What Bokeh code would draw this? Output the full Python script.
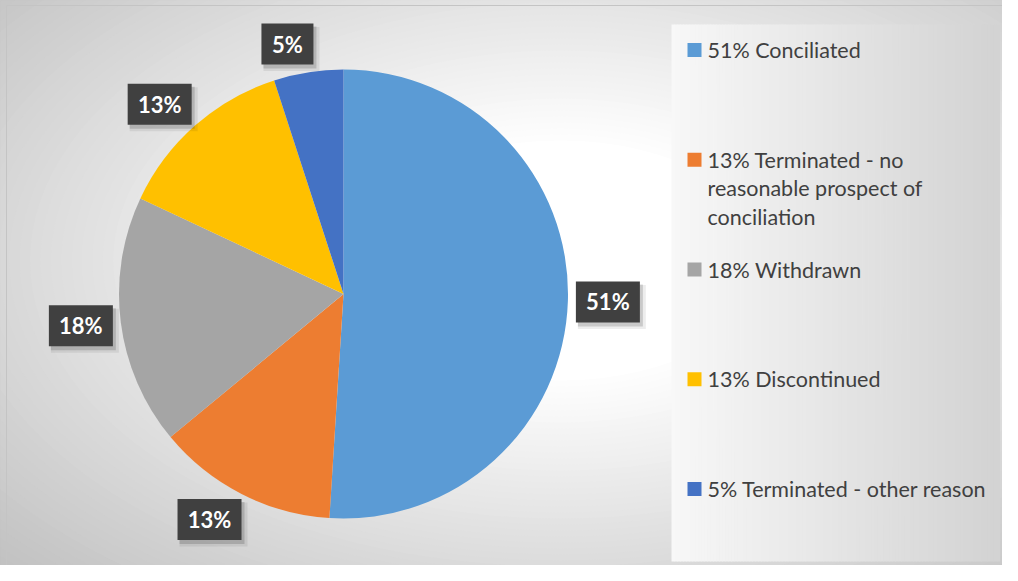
import numpy as np
from bokeh.plotting import figure
from bokeh.models import Range1d, ColumnDataSource
from bokeh.embed import file_html
from bokeh.resources import INLINE
from bokeh.core.properties import value

# ---------------- data ----------------
categories = ["Conciliated",
              "Terminated - no reasonable prospect of conciliation",
              "Withdrawn",
              "Discontinued",
              "Terminated - other reason"]
values = [51, 13, 18, 13, 5]
colors = ["#5B9BD5", "#ED7D31", "#A5A5A5", "#FFC000", "#4472C4"]
legend_labels = ["51% Conciliated",
                 "13% Terminated - no\nreasonable prospect of\nconciliation",
                 "18% Withdrawn",
                 "13% Discontinued",
                 "5% Terminated - other reason"]

# ---------------- layout ----------------
W, H = 1002, 565


def Y(py):
    return H - py


p = figure(width=W, height=H, x_range=Range1d(0, W), y_range=Range1d(0, H),
           output_backend="svg", toolbar_location=None, min_border=0)
p.axis.visible = False
p.grid.visible = False
p.outline_line_color = None
p.background_fill_color = "white"
p.border_fill_color = "white"

# radial-like background gradient (stacked ellipses)
ks = np.arange(1.6, 0.38, -0.02)
gv = np.clip(255 - 57 * (ks - 0.4) / 1.01, 192, 255).astype(int)
gcols = ["#%02x%02x%02x" % (g, g, g) for g in gv]
p.ellipse(x=560, y=Y(260), width=2 * 520 * ks, height=2 * 300 * ks,
          fill_color=gcols, line_color=None)

# chart border
p.quad(left=6, right=W + 5, top=Y(5), bottom=Y(H + 5), fill_color=None,
       line_color="#C4C4C4", line_width=1)

# legend box with horizontal gradient
edges = np.linspace(671, 999, 111)
lv = np.linspace(248, 211, len(edges) - 1).astype(int)
lcols = ["#%02x%02x%02x" % (g, g, g) for g in lv]
p.quad(left=edges[:-1], right=edges[1:] + 0.6, top=Y(24), bottom=Y(561),
       fill_color=lcols, line_color=None)

# ---------------- pie ----------------
cx, cy, r = 343, Y(293.5), 224.5
vals = np.array(values, dtype=float)
frac = vals / vals.sum()
cum = np.cumsum(frac)
start = np.pi / 2 - 2 * np.pi * (cum - frac)
end = np.pi / 2 - 2 * np.pi * cum
src = ColumnDataSource(dict(start=start, end=end, color=colors))
p.wedge(x=cx, y=cy, radius=r, start_angle="start", end_angle="end",
        direction="clock", fill_color="color", line_color=None, source=src)

# ---------------- data labels ----------------
mid = np.pi / 2 - 2 * np.pi * (cum - frac / 2)
dx, dy = np.cos(mid), np.sin(mid)
lab = ["%d%%" % v for v in values]
bw = np.array([12 * len(t) + 28 for t in lab], dtype=float)
bh = 41.0
gap = 8
lx = cx + dx * (r + gap) + np.sign(dx) * np.abs(dx) ** 0.15 * bw / 2
ly = cy + dy * (r + gap) + dy * bh / 2

p.rect(x=lx + 4, y=ly - 5, width=bw + 4, height=bh + 3, fill_color="black",
       fill_alpha=0.07, line_color=None)
p.rect(x=lx + 2.5, y=ly - 3.5, width=bw + 1, height=bh + 1, fill_color="black",
       fill_alpha=0.15, line_color=None)
p.rect(x=lx, y=ly, width=bw, height=bh, fill_color="#404040", line_color=None)
p.text(x=lx, y=ly, text=lab, text_color="white", text_font=value("Lato"),
       text_font_style="bold", text_font_size="22px", text_align="center",
       text_baseline="middle")

# ---------------- legend ----------------
step = 109.75
for i, (lbl, col) in enumerate(zip(legend_labels, colors)):
    base = 49.5 + step * i
    p.rect(x=694, y=Y(base), width=14, height=14, fill_color=col, line_color=None)
    lines = lbl.split("\n")
    p.text(x=[707] * len(lines), y=[Y(base + 28.5 * j) for j in range(len(lines))],
           text=lines, text_color="#404040", text_font=value("Lato"),
           text_font_size="21.5px", text_align="left", text_baseline="middle")

open("out.html", "w").write(file_html(p, INLINE))
